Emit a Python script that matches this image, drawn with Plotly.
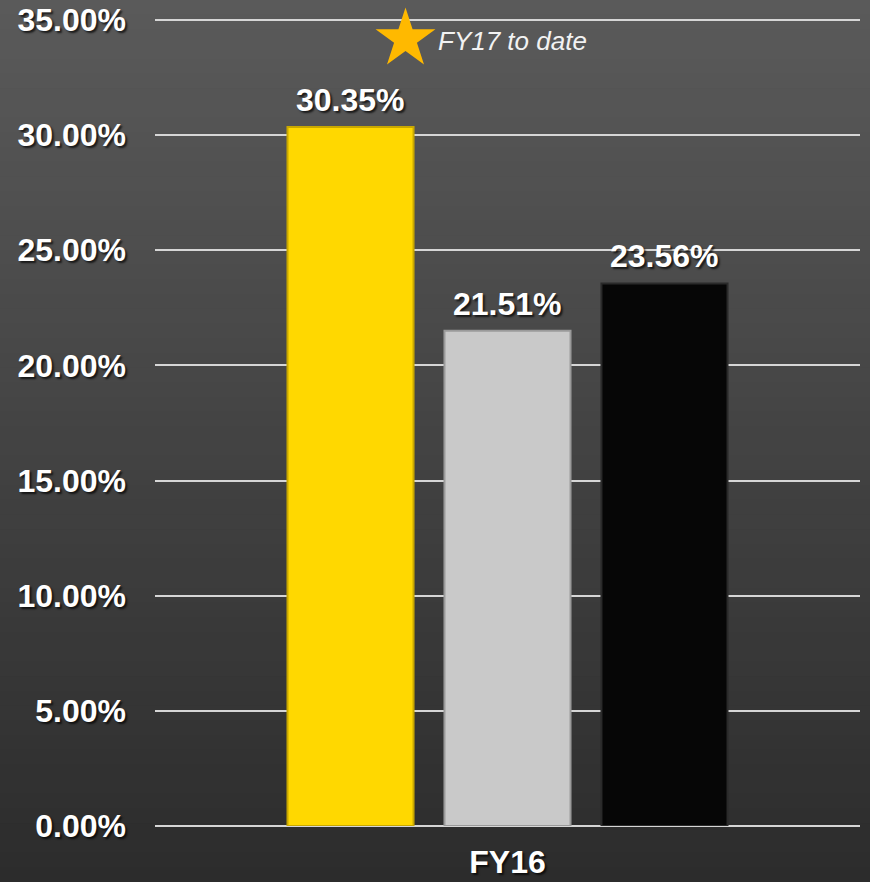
import plotly.graph_objects as go

# ---- data ----
categories = ["FY16"]
series_names = ["Series A", "Series B", "Series C"]
series_values = [30.35, 21.51, 23.56]
series_colors = ["#FFD800", "#C9C9C9", "#060606"]
series_edges = ["#C9A800", "#9A9A9A", "#2A2A2A"]
y_ticks = [0, 5, 10, 15, 20, 25, 30, 35]
y_tick_labels = ["0.00%", "5.00%", "10.00%", "15.00%", "20.00%", "25.00%", "30.00%", "35.00%"]
legend_label = "FY17 to date"

W, H = 870, 882
ML, MR, MT, MB = 155, 10, 16, 56
PW, PH = W - ML - MR, H - MT - MB
UNIT = 806 / 35.0               # pixels per percentage point
Y_TOP = PH / UNIT               # slightly above 35 so the top grid line is drawn
BARGAP, GROUPGAP = 0.332, 0.197

FONT = "Arial, 'Liberation Sans', sans-serif"
SHADOW = "2px 2px 2px rgba(0,0,0,0.7)"
BIG = dict(family=FONT, size=32, color="white", weight="bold", shadow=SHADOW)

fig = go.Figure()
for name, val, col, edge in zip(series_names, series_values, series_colors, series_edges):
    fig.add_trace(go.Bar(
        x=categories, y=[val], name=name,
        marker=dict(color=col, line=dict(color=edge, width=2)),
        showlegend=False, hoverinfo="skip",
    ))

# value labels above bars (offset per group slot)
slot = PW * (1 - BARGAP) / len(series_values)
annotations = []
for i, val in enumerate(series_values):
    annotations.append(dict(
        x=categories[0], y=val, xref="x", yref="y",
        xshift=(i - (len(series_values) - 1) / 2) * slot, yshift=27,
        xanchor="center", yanchor="middle", showarrow=False,
        text="%.2f%%" % val, font=BIG,
    ))

# star marker (legend-like) on an overlay axis
star_px = (405.5, 39)
fig.add_trace(go.Scatter(
    x=[(star_px[0] - ML) / PW], y=[1 - (star_px[1] - MT) / PH],
    mode="markers", xaxis="x2", yaxis="y2",
    marker=dict(symbol="star", size=45, color="#FFB900", line=dict(width=0)),
    showlegend=False, hoverinfo="skip", cliponaxis=False,
))
annotations.append(dict(
    x=(436 - ML) / PW, y=1 - (41 - MT) / PH, xref="paper", yref="paper",
    xanchor="left", yanchor="middle", showarrow=False, text=legend_label,
    font=dict(family=FONT, size=26, color="#F2F2F2", style="italic"),
))

# background gradient bands
top = (0x5A, 0x5A, 0x5A)
bot = (0x2C, 0x2C, 0x2C)
n = 60
y_lo = -MB / PH
y_hi = 1 + MT / PH
shapes = []
for i in range(n):
    t = i / (n - 1)
    c = tuple(int(round(top[k] + (bot[k] - top[k]) * t)) for k in range(3))
    y1 = y_hi - (y_hi - y_lo) * i / n
    y0 = y_hi - (y_hi - y_lo) * (i + 1) / n
    shapes.append(dict(type="rect", xref="paper", yref="paper",
                       x0=-ML / PW, x1=1 + MR / PW, y0=y0 - 0.002, y1=y1,
                       fillcolor="rgb(%d,%d,%d)" % c, line=dict(width=0), layer="below"))

fig.update_layout(
    width=W, height=H, autosize=False,
    margin=dict(l=ML, r=MR, t=MT, b=MB, pad=0, autoexpand=False),
    paper_bgcolor="#3f3f3f", plot_bgcolor="rgba(0,0,0,0)",
    barmode="group", bargap=BARGAP, bargroupgap=GROUPGAP,
    shapes=shapes, annotations=annotations,
    xaxis=dict(showgrid=False, zeroline=False, showline=False, ticks="",
               automargin=False, ticklabelstandoff=14, tickfont=BIG),
    yaxis=dict(range=[0, Y_TOP], tickvals=y_ticks, ticktext=y_tick_labels,
               showgrid=True, gridcolor="#D6D6D6", gridwidth=2,
               zeroline=True, zerolinecolor="#D6D6D6", zerolinewidth=2,
               showline=False, ticks="", automargin=False,
               ticklabelstandoff=28, tickfont=BIG),
    xaxis2=dict(overlaying="x", range=[0, 1], visible=False),
    yaxis2=dict(overlaying="y", range=[0, 1], visible=False),
)

fig.write_html(
    "out.html",
    config={"responsive": False, "displayModeBar": False, "staticPlot": True},
    post_script=("var d=document.getElementById('{plot_id}');"
                 "d.style.position='fixed';d.style.top='0px';d.style.left='0px';"
                 "document.body.style.background='#3f3f3f';"),
)
